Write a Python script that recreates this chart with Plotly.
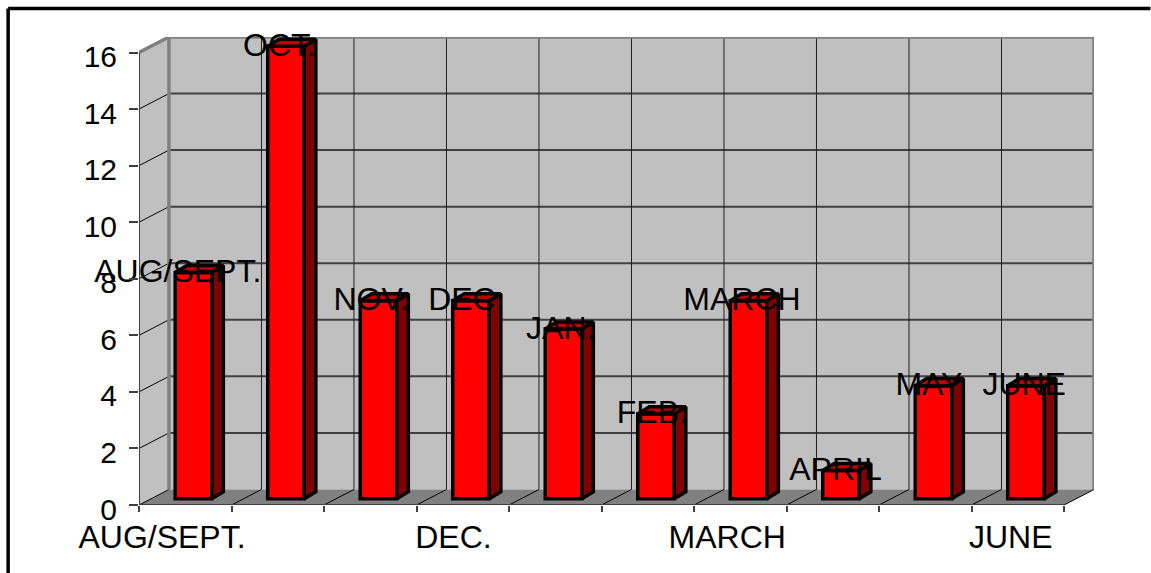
import plotly.graph_objects as go

categories = ["AUG/SEPT.", "OCT.", "NOV.", "DEC.", "JAN.", "FEB.", "MARCH", "APRIL", "MAY", "JUNE"]
values = [8, 16, 7, 7, 6, 3, 7, 1, 4, 4]
label_every = 3
y_ticks = list(range(0, 17, 2))

W, H = 1151, 573
L, R, T, B = 138.5, 56.5, 37, 68
n = len(categories)
wall_dx = 0.324
wall_dy = 0.5485
ymax = 16
bar_off = 0.589
bar_w = 0.395
bar_base = 0.22
d_dx, d_dy = 0.125, 0.25
label_shift = [-0.17, -0.07, -0.08, -0.05, -0.03, -0.04, -0.07, -0.06, -0.05, -0.02]
tick_shift = [-0.34, -0.19, -0.23, -0.165]
FONT = "Liberation Sans, Arial, sans-serif"
BLACK = "#000000"
EDGE = "#808080"
GRID = "#404040"
BAR_LINE = 3.5

def px(vx):
    return (vx - L) / (W - L - R)
def py(vy):
    return (H - B - vy) / (H - T - B)

shapes = []
def poly(pts, fill, line=None, w=0):
    path = "M " + " L ".join(f"{a},{b}" for a, b in pts) + " Z"
    shapes.append(dict(type="path", path=path, xref="x", yref="y", fillcolor=fill, layer="below",
                       line=dict(color=line or fill, width=w)))
def seg(x0, y0, x1, y1, c, w):
    shapes.append(dict(type="line", x0=x0, y0=y0, x1=x1, y1=y1, xref="x", yref="y", layer="below",
                       line=dict(color=c, width=w)))

poly([(wall_dx, wall_dy), (n + wall_dx, wall_dy), (n + wall_dx, ymax + wall_dy), (wall_dx, ymax + wall_dy)], "#c0c0c0")
poly([(0, 0), (wall_dx, wall_dy), (wall_dx, ymax + wall_dy), (0, ymax)], "#c0c0c0")
poly([(0, 0), (n, 0), (n + wall_dx, wall_dy), (wall_dx, wall_dy)], EDGE)
for v in y_ticks[1:-1]:
    seg(wall_dx, v + wall_dy, n + wall_dx, v + wall_dy, GRID, 2)
    seg(0, v, wall_dx, v + wall_dy, BLACK, 1)
for i in range(1, n):
    seg(i + wall_dx, wall_dy, i + wall_dx, ymax + wall_dy, "#202020", 1)
for i in range(0, n + 1):
    seg(i, 0, i + wall_dx, wall_dy, BLACK, 1)
seg(wall_dx, wall_dy, wall_dx, ymax + wall_dy, EDGE, 3.5)
seg(wall_dx, ymax + wall_dy, n + wall_dx, ymax + wall_dy, EDGE, 3.5)
seg(n + wall_dx, wall_dy, n + wall_dx, ymax + wall_dy, EDGE, 3.5)
seg(0, ymax, wall_dx, ymax + wall_dy, EDGE, 3.5)
seg(0, 0, 0, ymax, GRID, 2)
seg(0, 0, n, 0, GRID, 2)

# outer picture frame (top and left edges only reach the window)
shapes.append(dict(type="line", xref="paper", yref="paper", x0=px(7.5), x1=px(1151), y0=py(8.5), y1=py(8.5),
                   line=dict(color=BLACK, width=3.5)))
shapes.append(dict(type="line", xref="paper", yref="paper", x0=px(7.5), x1=px(7.5), y0=py(8.5), y1=py(573),
                   line=dict(color=BLACK, width=3.5)))

centers = [i + bar_off for i in range(n)]

side_x, side_y, top_x, top_y = [], [], [], []
for c, v in zip(centers, values):
    r, l = c + bar_w / 2, c - bar_w / 2
    b, t = bar_base, bar_base + v
    side_x += [r, r + d_dx, r + d_dx, r, r, None]
    side_y += [b, b + d_dy, t + d_dy, t, b, None]
    top_x += [l, l + d_dx, r + d_dx, r, l, None]
    top_y += [t, t + d_dy, t + d_dy, t, t, None]

fig = go.Figure()
fig.add_trace(go.Bar(x=centers, y=values, base=[bar_base] * n, width=bar_w,
                     marker=dict(color="#ff0000", line=dict(color=BLACK, width=BAR_LINE)), hoverinfo="skip"))
fig.add_trace(go.Scatter(x=side_x, y=side_y, mode="lines", fill="toself", fillcolor="#800000",
                         line=dict(color=BLACK, width=BAR_LINE), hoverinfo="skip"))
fig.add_trace(go.Scatter(x=top_x, y=top_y, mode="lines", fill="toself", fillcolor="#c00000",
                         line=dict(color=BLACK, width=BAR_LINE), hoverinfo="skip"))
fig.add_trace(go.Scatter(x=[c + s for c, s in zip(centers, label_shift)],
                         y=[v + bar_base - 0.05 for v in values],
                         mode="text", text=categories, textposition="middle center",
                         textfont=dict(family=FONT, size=32, color=BLACK), cliponaxis=False, hoverinfo="skip"))

fig.update_layout(
    width=W, height=H, showlegend=False, paper_bgcolor="white", plot_bgcolor="white",
    margin=dict(l=L, r=R, t=T, b=B, pad=0),
    shapes=shapes,
    xaxis=dict(range=[0, n + wall_dx], showgrid=False, zeroline=False, showline=False,
               tickmode="array",
               tickvals=[c + s for c, s in zip(centers[::label_every], tick_shift)],
               ticktext=categories[::label_every],
               ticks="", ticklabelstandoff=10,
               tickfont=dict(family=FONT, size=32, color=BLACK),
               minor=dict(tickmode="array", tickvals=list(range(n + 1)), ticks="outside",
                          ticklen=6, tickwidth=2, tickcolor=GRID, showgrid=False)),
    yaxis=dict(range=[0, ymax + wall_dy], showgrid=False, zeroline=False, showline=False,
               tickmode="array", tickvals=y_ticks, ticktext=[str(v) for v in y_ticks],
               ticks="outside", ticklen=9, tickwidth=2, tickcolor=GRID,
               ticklabelstandoff=6, ticklabelshift=4,
               tickfont=dict(family=FONT, size=30, color=BLACK)),
    font=dict(family=FONT),
)

fig.write_html("out.html", config=dict(displayModeBar=False),
               post_script="document.body.style.margin='0';document.body.style.overflow='hidden';")
